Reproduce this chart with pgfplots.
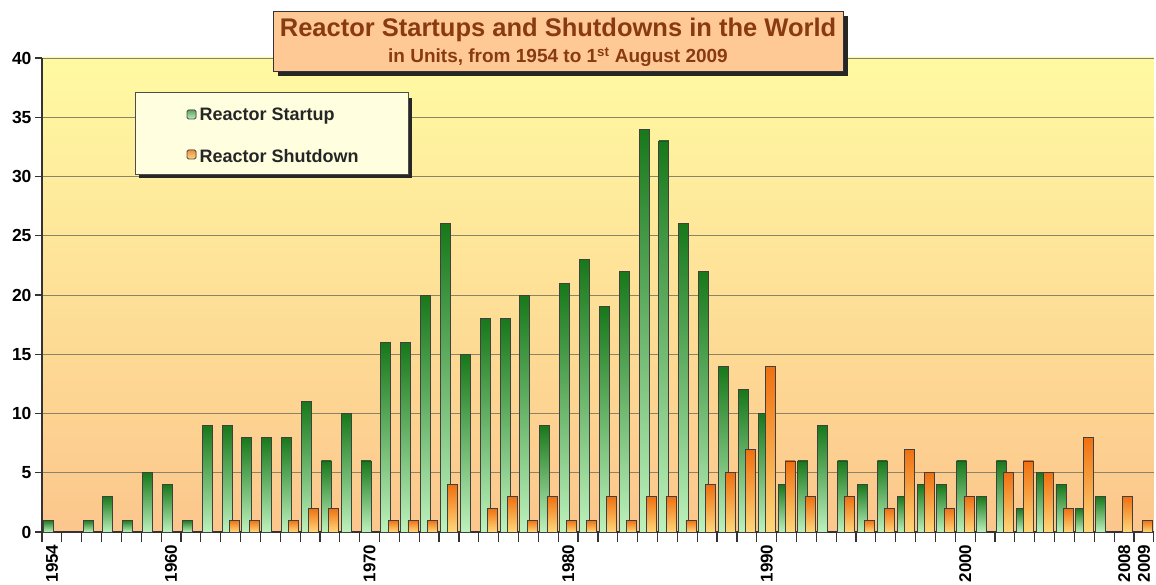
\documentclass[border=0pt]{standalone}
\usepackage{pgfplots}
\pgfplotsset{compat=1.18}
\usepackage{fontspec}
\setmainfont{Liberation Sans}
\definecolor{bgtop}{HTML}{FFFAA2}
\definecolor{bgbot}{HTML}{FCC68C}
\definecolor{gtop}{HTML}{18781A}
\definecolor{gbot}{HTML}{BDF2BD}
\definecolor{otop}{HTML}{F07010}
\definecolor{obot}{HTML}{FFD87A}
\definecolor{titlecol}{HTML}{8A3A10}
\definecolor{titlefill}{HTML}{FFC996}
\definecolor{legfill}{HTML}{FFFFE0}
\definecolor{gridcol}{HTML}{8A8466}
\pgfplotsset{
  gbar/.style={draw=black!75, line width=0.8pt, shade, top color=gtop, bottom color=gbot, bar shift=-3.6pt},
  obar/.style={draw=black!75, line width=0.8pt, shade, top color=otop, bottom color=obot, bar shift=3.6pt},
}
\begin{document}
\begin{tikzpicture}
\begin{axis}[
  at={(0,0)}, anchor=south west,
  scale only axis, width=1112pt, height=474pt,
  xmin=1953.5, xmax=2009.5, ymin=0, ymax=40,
  axis lines*=left,
  axis line style={line width=1.6pt, draw=black!80},
  axis background/.style={shade, top color=bgtop, bottom color=bgbot},
  ytick={0,5,...,40},
  ymajorgrids, grid style={draw=gridcol, line width=0.9pt},
  xtick={1954,1960,1970,1980,1990,2000,2008,2009},
  minor xtick={1953.5,1954.5,...,2009.5},
  major x tick style={draw=none},
  minor x tick style={draw=black!80, line width=1.2pt},
  minor tick length=10pt,
  xtick align=center,
  ytick align=outside, major tick length=7pt,
  y tick style={draw=black!80, line width=1.2pt},
  /pgf/number format/assume math mode=true,
  xticklabel style={rotate=90, anchor=east, xshift=-2pt, font=\fontsize{17}{18}\selectfont\bfseries,
    /pgf/number format/1000 sep={}},
  yticklabel style={font=\fontsize{17.5}{18}\selectfont\bfseries},
  ybar, bar width=10pt,
  clip=false,
]
% Reactor startups (year/value)
\pgfplotsforeachungrouped \xx/\yy in {
1954/1, 1956/1, 1957/3, 1958/1, 1959/5, 1960/4, 1961/1, 1962/9, 1963/9,
1964/8, 1965/8, 1966/8, 1967/11, 1968/6, 1969/10, 1970/6, 1971/16, 1972/16,
1973/20, 1974/26, 1975/15, 1976/18, 1977/18, 1978/20, 1979/9, 1980/21,
1981/23, 1982/19, 1983/22, 1984/34, 1985/33, 1986/26, 1987/22, 1988/14,
1989/12, 1990/10, 1991/4, 1992/6, 1993/9, 1994/6, 1995/4, 1996/6, 1997/3,
1998/4, 1999/4, 2000/6, 2001/3, 2002/6, 2003/2, 2004/5, 2005/4, 2006/2, 2007/3}{%
  \edef\temp{\noexpand\addplot[gbar] coordinates {(\xx,\yy)};}\temp
}
% Reactor shutdowns (year/value)
\pgfplotsforeachungrouped \xx/\yy in {
1963/1, 1964/1, 1966/1, 1967/2, 1968/2, 1971/1, 1972/1, 1973/1, 1974/4,
1976/2, 1977/3, 1978/1, 1979/3, 1980/1, 1981/1, 1982/3, 1983/1, 1984/3,
1985/3, 1986/1, 1987/4, 1988/5, 1989/7, 1990/14, 1991/6, 1992/3, 1994/3,
1995/1, 1996/2, 1997/7, 1998/5, 1999/2, 2000/3, 2002/5, 2003/6, 2004/5,
2005/2, 2006/8, 2008/3, 2009/1}{%
  \edef\temp{\noexpand\addplot[obar] coordinates {(\xx,\yy)};}\temp
}
\end{axis}
% title box
\fill[black!85] (236pt,456pt) rectangle (806pt,516pt);
\filldraw[fill=titlefill, draw=black!80, line width=1pt] (231pt,460pt) rectangle (801pt,520pt);
\node[text=titlecol, font=\fontsize{25.5}{28}\selectfont\bfseries] at (516pt,502pt) {Reactor Startups and Shutdowns in the World};
\node[text=titlecol, font=\fontsize{19}{21}\selectfont\bfseries] at (516pt,475pt) {in Units, from 1954 to 1\textsuperscript{st} August 2009};
% legend box
\fill[black!85] (97pt,354pt) rectangle (370pt,434pt);
\filldraw[fill=legfill, draw=black!70, line width=1pt] (93pt,357pt) rectangle (366pt,439pt);
\filldraw[draw=black!70, line width=0.8pt, shade, top color=gtop!70, bottom color=gbot, rounded corners=1.5pt] (145pt,413pt) rectangle (154pt,422pt);
\node[anchor=west, text=black!85, font=\fontsize{18}{20}\selectfont\bfseries] at (154pt,416pt) {Reactor Startup};
\filldraw[draw=black!70, line width=0.8pt, shade, top color=otop!80, bottom color=obot, rounded corners=1.5pt] (145pt,373pt) rectangle (154pt,382pt);
\node[anchor=west, text=black!85, font=\fontsize{18}{20}\selectfont\bfseries] at (154pt,376pt) {Reactor Shutdown};
\pgfresetboundingbox
\useasboundingbox (-42pt,-52pt) rectangle (1114pt,532pt);
\end{tikzpicture}
\end{document}
